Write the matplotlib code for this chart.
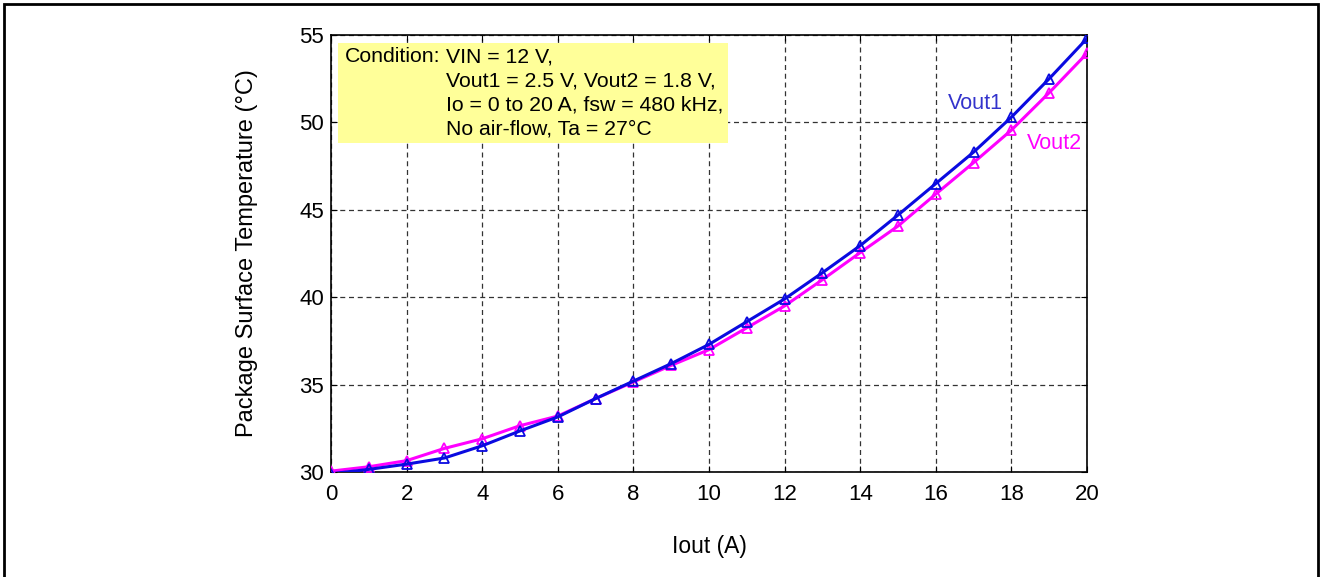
import matplotlib
matplotlib.use("Agg")
import matplotlib.pyplot as plt
from matplotlib.patches import Rectangle

plt.rcParams['font.family'] = ['Liberation Sans', 'DejaVu Sans']

iout = list(range(0, 21))
vout1 = [29.9, 30.15, 30.45, 30.8, 31.5, 32.35, 33.15, 34.2, 35.2, 36.2, 37.3,
         38.6, 39.9, 41.4, 42.95, 44.7, 46.5, 48.3, 50.3, 52.5, 54.8]
vout2 = [30.05, 30.3, 30.65, 31.35, 31.9, 32.65, 33.2, 34.2, 35.15, 36.1, 37.0,
         38.25, 39.5, 41.0, 42.55, 44.07, 45.9, 47.7, 49.56, 51.7, 53.95]
xticks = list(range(0, 21, 2))
yticks = [30, 35, 40, 45, 50, 55]
cond_label = "Condition:"
cond_lines = ["VIN = 12 V,", "Vout1 = 2.5 V, Vout2 = 1.8 V,",
              "Io = 0 to 20 A, fsw = 480 kHz,", "No air-flow, Ta = 27\u00b0C"]

W, H = 1320, 577
fig = plt.figure(figsize=(W / 100, H / 100), dpi=100)
ax = fig.add_axes([331 / W, 1 - 472 / H, (1087 - 331) / W, (472 - 35) / H])

blue = '#0a0ae0'
mag = '#ff00ff'
ax.plot(iout, vout2, color=mag, lw=2.2, marker='^', ms=6.5, mfc='none', mew=1.3, zorder=3)
ax.plot(iout, vout1, color=blue, lw=2.2, marker='^', ms=6.5, mfc='none', mew=1.3, zorder=4)

ax.set_xlim(0, 20)
ax.set_ylim(30, 55)
ax.set_xticks(xticks)
ax.set_yticks(yticks)
ax.tick_params(direction='in', top=True, right=True, labelsize=16, length=4, pad=5)
ax.tick_params(axis='x', pad=9)
ax.grid(True, color='#333333', ls=(0, (4, 3)), lw=0.9)
for s in ax.spines.values():
    s.set_linewidth(1.2)
ax.set_xlabel('Iout (A)', fontsize=16.5, labelpad=21)
ax.set_ylabel('Package Surface Temperature (\u00b0C)', fontsize=17, labelpad=30)

ax.text(17.05, 51.1, 'Vout1', color='#3333cc', fontsize=15.5, ha='center', va='center')
ax.text(19.15, 48.8, 'Vout2', color=mag, fontsize=15.5, ha='center', va='center')

# condition box in figure pixel coords
fig.patches.append(Rectangle((338 / W, 1 - 143 / H), (728 - 338) / W, (143 - 43) / H,
                             transform=fig.transFigure, facecolor='#ffff99',
                             edgecolor='none', zorder=5))
fig.text(345 / W, 1 - 57 / H, cond_label, fontsize=15.3, va='center', ha='left', zorder=6)
for i, line in enumerate(cond_lines):
    fig.text(446 / W, 1 - (57 + 24.0 * i) / H, line, fontsize=15.3, va='center', ha='left', zorder=6)

# outer frame
fig.patches.append(Rectangle((3.5 / W, -0.05), (1317.5 - 3.5) / W, 1.05 - 3.5 / H,
                             transform=fig.transFigure, facecolor='none',
                             edgecolor='black', lw=2, zorder=0))

fig.savefig('out.png', dpi=100)
